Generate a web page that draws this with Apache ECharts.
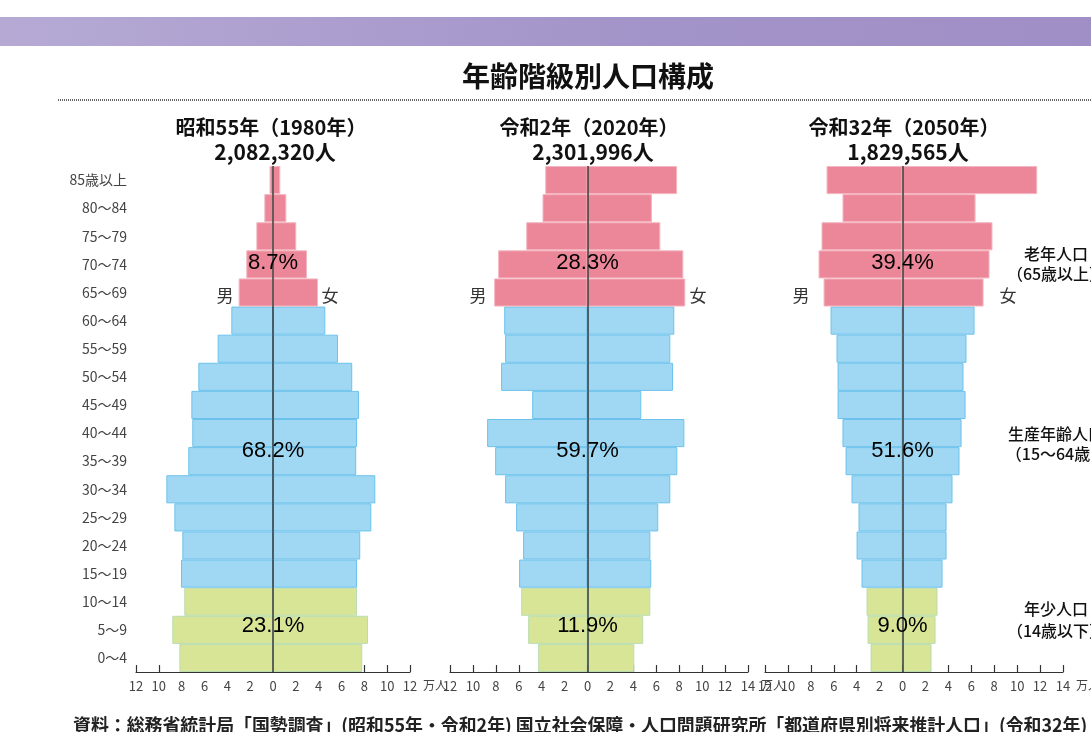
<!DOCTYPE html>
<html>
<head>
<meta charset="utf-8">
<script src="https://cdn.jsdelivr.net/npm/echarts@6/dist/echarts.min.js"></script>
<style>
  html, body { margin: 0; padding: 0; background: #fff; }
  #chart { width: 1091px; height: 732px; }
</style>
</head>
<body>
<div id="chart"></div>
<script>
// age groups, bottom to top
const ages = ['0～4', '5～9', '10～14', '15～19', '20～24', '25～29', '30～34', '35～39', '40～44',
  '45～49', '50～54', '55～59', '60～64', '65～69', '70～74', '75～79', '80～84', '85歳以上'];

// 万人
const male1980 = [8.2, 8.82, 7.77, 8.06, 7.94, 8.64, 9.34, 7.42, 7.07, 7.15, 6.54, 4.85, 3.65, 3.01, 2.34, 1.46, 0.76, 0.3];
const female1980 = [7.82, 8.32, 7.36, 7.36, 7.64, 8.61, 8.96, 7.29, 7.36, 7.53, 6.94, 5.69, 4.58, 3.94, 2.98, 2.04, 1.17, 0.64];
const male2020 = [4.31, 5.18, 5.79, 5.97, 5.62, 6.23, 7.19, 8.06, 8.76, 4.83, 7.54, 7.19, 7.27, 8.15, 7.8, 5.35, 3.93, 3.69];
const female2020 = [4.08, 4.86, 5.48, 5.56, 5.48, 6.17, 7.22, 7.83, 8.45, 4.69, 7.46, 7.22, 7.57, 8.53, 8.36, 6.35, 5.62, 7.81];
const male2050 = [2.79, 3.05, 3.14, 3.58, 4.01, 3.84, 4.45, 4.97, 5.24, 5.67, 5.67, 5.76, 6.28, 6.89, 7.33, 7.07, 5.24, 6.63];
const female2050 = [2.53, 2.88, 3.05, 3.49, 3.84, 3.84, 4.36, 4.97, 5.15, 5.5, 5.32, 5.58, 6.28, 7.07, 7.59, 7.85, 6.37, 11.75];

const yearTitles = ['昭和55年（1980年）', '令和2年（2020年）', '令和32年（2050年）'];
const totals = ['2,082,320人', '2,301,996人', '1,829,565人'];
// shares: elderly, working age, young
const shares1980 = ['8.7%', '68.2%', '23.1%'];
const shares2020 = ['28.3%', '59.7%', '11.9%'];
const shares2050 = ['39.4%', '51.6%', '9.0%'];
const shareRows = ['70～74', '35～39', '5～9'];
const groupNames = [['老年人口', '（65歳以上）'], ['生産年齢人口', '（15～64歳）'], ['年少人口', '（14歳以下）']];

const pyramids = [
  { male: male1980, female: female1980, shares: shares1980, left: 136, width: 274, max: 12 },
  { male: male2020, female: female2020, shares: shares2020, left: 450, width: 298, max: 14 },
  { male: male2050, female: female2050, shares: shares2050, left: 765, width: 298, max: 14 }
];

const PINK = '#EC8799', BLUE = '#A0D8F4', GREEN = '#D8E597';
function fillOf(i) { return i <= 2 ? GREEN : (i <= 12 ? BLUE : PINK); }
function edgeOf(i) { return i <= 2 ? '#B9DDB0' : (i <= 12 ? '#6CC2EC' : '#F4B6C0'); }

const narrow = '"Liberation Sans Narrow", "Noto Sans CJK JP", sans-serif';
const jp = '"Noto Sans CJK JP", sans-serif';

const chart = echarts.init(document.getElementById('chart'));

const grids = [], xAxes = [], yAxes = [], series = [];
pyramids.forEach((p, g) => {
  grids.push({ left: p.left, width: p.width, top: 166, height: 506, outerBoundsMode: 'none', containLabel: false });
  xAxes.push({
    type: 'value', gridIndex: g, min: -12, max: p.max, interval: 2,
    name: '万人', nameLocation: 'end', nameGap: g === 1 ? 3 : 9,
    nameTextStyle: { fontFamily: jp, fontSize: 12, color: '#444', verticalAlign: 'top', padding: [7, 0, 0, 0] },
    axisLine: { show: true, lineStyle: { color: '#333', width: 1.2 } },
    axisTick: { show: true, inside: true, length: 7, lineStyle: { color: '#333', width: 1.2 } },
    axisLabel: { formatter: v => Math.abs(v), fontFamily: narrow, fontSize: 13, color: '#444', margin: 8 },
    splitLine: { show: false }
  });
  yAxes.push({
    type: 'category', gridIndex: g, data: ages,
    axisLine: { show: false }, axisTick: { show: false },
    axisLabel: { show: g === 0, fontFamily: narrow, fontSize: 14, color: '#444', margin: 9 }
  });
  const bar = (vals, sign) => ({
    type: 'bar', xAxisIndex: g, yAxisIndex: g, stack: 'p' + g,
    barCategoryGap: '0%', silent: true,
    data: vals.map((v, i) => ({ value: sign * v, itemStyle: { color: fillOf(i), borderColor: edgeOf(i), borderWidth: 1 } }))
  });
  const m = bar(p.male, -1);
  const f = bar(p.female, 1);
  f.markLine = {
    silent: true, symbol: 'none', label: { show: false },
    lineStyle: { color: '#3a3a3a', width: 1.5, type: 'solid' },
    data: [{ xAxis: 0 }]
  };
  series.push(m, f);
  const offsets = [[0, -1], [0, -10], [0, -4]];
  series.push({
    type: 'scatter', xAxisIndex: g, yAxisIndex: g, symbolSize: 0, z: 5, silent: true,
    itemStyle: { color: 'rgba(0,0,0,0)' },
    data: shareRows.map((r, i) => ({
      value: [0, r],
      label: {
        show: true, position: 'inside', formatter: p.shares[i], offset: offsets[i],
        fontFamily: '"Liberation Sans", sans-serif', fontSize: 22, color: '#000', opacity: 1
      }
    }))
  });
});

const centers = [271, 589, 904];
const graphic = [
  {
    type: 'rect', left: 0, top: 17, silent: true,
    shape: { width: 1091, height: 29 },
    style: {
      fill: new echarts.graphic.LinearGradient(0, 0, 1, 0, [
        { offset: 0, color: '#B6AAD5' }, { offset: 0.6, color: '#A293C8' }, { offset: 1, color: '#A08FC6' }
      ])
    }
  },
  {
    type: 'text', x: 588, y: 76,
    style: { text: '年齢階級別人口構成', fontFamily: jp, fontSize: 28, fontWeight: 'bold', fill: '#111', align: 'center', verticalAlign: 'middle' }
  },
  {
    type: 'line', silent: true,
    shape: { x1: 58, y1: 100, x2: 1091, y2: 100 },
    style: { stroke: '#333', lineWidth: 1.5, lineDash: [1, 1] }
  },
  {
    type: 'text', left: 73, top: 716,
    style: {
      text: '資料：総務省統計局「国勢調査」(昭和55年・令和2年) 国立社会保障・人口問題研究所「都道府県別将来推計人口」(令和32年)',
      fontFamily: jp, fontSize: 17.9, fontWeight: 'bold', fill: '#222'
    }
  }
];
centers.forEach((cx, i) => {
  graphic.push({
    type: 'text', x: cx, y: 127,
    style: { text: yearTitles[i], fontFamily: jp, fontSize: 20, fontWeight: 'bold', fill: '#111', align: 'center', verticalAlign: 'middle' }
  });
  graphic.push({
    type: 'text', x: cx + 4, y: 152,
    style: { text: totals[i], fontFamily: jp, fontSize: 21, fontWeight: 'bold', fill: '#111', align: 'center', verticalAlign: 'middle' }
  });
});
const sexPos = [[225, 330], [478, 698], [801, 1008]];
sexPos.forEach(([mx, fx]) => {
  graphic.push({ type: 'text', x: mx, y: 296, style: { text: '男', fontFamily: jp, fontSize: 17, fill: '#333', align: 'center', verticalAlign: 'middle' } });
  graphic.push({ type: 'text', x: fx, y: 296, style: { text: '女', fontFamily: jp, fontSize: 17, fill: '#333', align: 'center', verticalAlign: 'middle' } });
});
const groupY = [[254, 274], [434, 454], [609, 631]];
groupNames.forEach((lines, i) => {
  lines.forEach((t, j) => {
    graphic.push({
      type: 'text', x: 1056, y: groupY[i][j],
      style: { text: t, fontFamily: jp, fontSize: 16, fontWeight: 500, fill: '#111', align: 'center', verticalAlign: 'middle' }
    });
  });
});

chart.setOption({
  animation: false,
  grid: grids,
  xAxis: xAxes,
  yAxis: yAxes,
  series,
  graphic
});
</script>
</body>
</html>
